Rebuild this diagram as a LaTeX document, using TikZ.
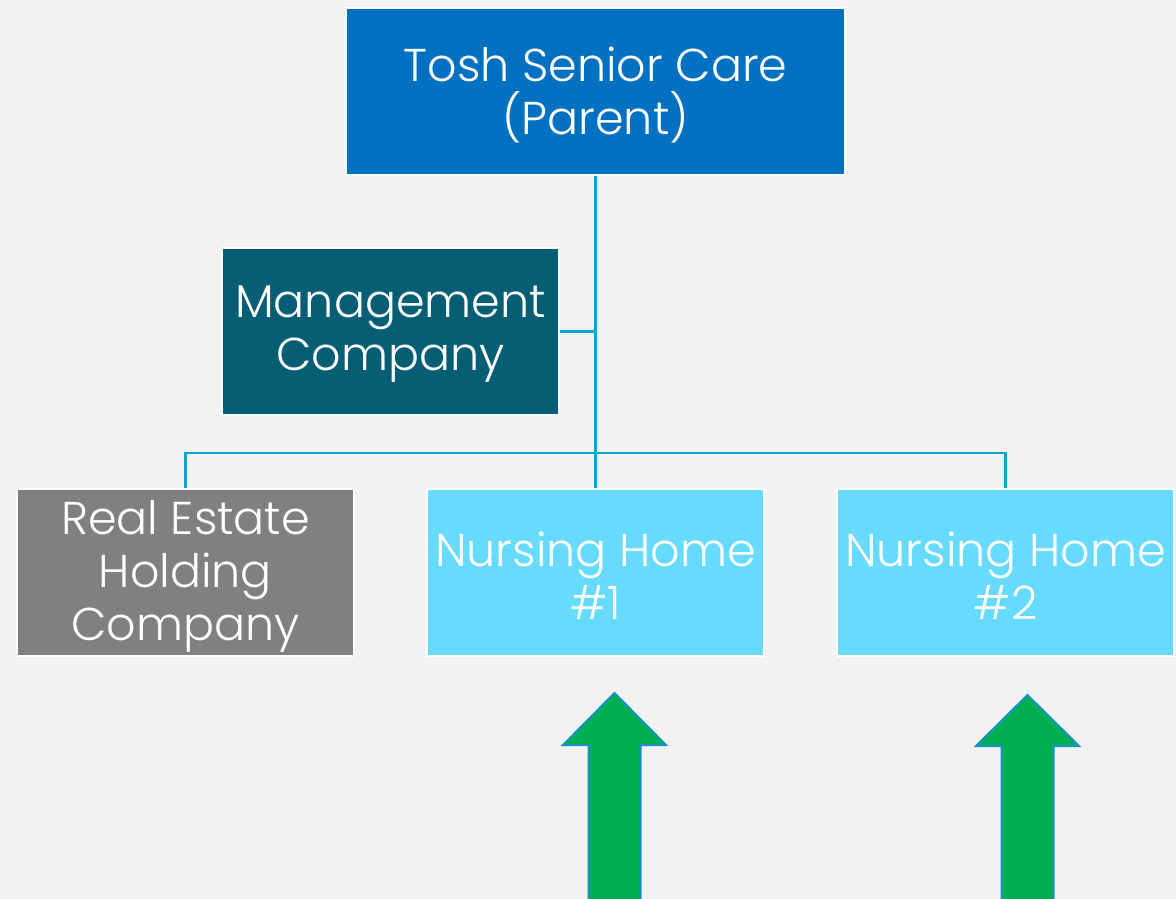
\documentclass[tikz,border=0pt]{standalone}
\usepackage{fontspec}
\setmainfont{Poppins Light}
\usepackage{xcolor}
\definecolor{bgGray}{HTML}{F2F2F2}
\definecolor{parentBlue}{HTML}{0070C0}
\definecolor{mgmtTeal}{HTML}{055E73}
\definecolor{estateGray}{HTML}{808080}
\definecolor{homeCyan}{HTML}{66DBFF}
\definecolor{lineBlue}{HTML}{0BA3D0}
\definecolor{arrowGreen}{HTML}{00B050}
\definecolor{arrowEdge}{HTML}{1591C8}

\tikzset{
  orgbox/.style={draw=white, line width=2pt, minimum height=167pt, inner sep=0pt},
  orgtext/.style={text=white, align=center, inner sep=0pt,
    font=\fontsize{46}{53}\selectfont},
  link/.style={draw=lineBlue, line width=2.5pt},
  uparrow/.style={fill=arrowGreen, draw=arrowEdge, line width=2pt, line join=miter}
}

\begin{document}
\begin{tikzpicture}[x=1pt, y=-1pt]
        \fill[bgGray] (0,0) rectangle (1176,899);
        \useasboundingbox (0,0) rectangle (1176,899);
        % boxes
        \node[orgbox, fill=parentBlue, minimum width=499pt] (parent) at (595.5,91.5) {};
        \node[orgbox, fill=mgmtTeal, minimum width=337pt] (mgmt) at (390.5,331.5) {};
        \node[orgbox, fill=estateGray, minimum width=337pt] (estate) at (185.5,572.5) {};
        \node[orgbox, fill=homeCyan, minimum width=337pt] (home1) at (595.5,572.5) {};
        \node[orgbox, fill=homeCyan, minimum width=337pt] (home2) at (1005.5,572.5) {};
        % labels
        \node[orgtext] (parenttext) at ([yshift=-3pt]parent.center) {Tosh Senior Care\\(Parent)};
        \node[orgtext] (mgmttext) at ([yshift=-3pt]mgmt.center) {Management\\Company};
        \node[orgtext] (estatetext) at ([yshift=-4pt]estate.center) {Real Estate\\Holding\\Company};
        \node[orgtext] (home1text) at ([yshift=-3pt]home1.center) {Nursing Home\\\#1};
        \node[orgtext] (home2text) at ([yshift=-3pt]home2.center) {Nursing Home\\\#2};
        % connectors
        \coordinate (bus) at (595.5,453);
        \draw[link] (parent.south) -- (home1.north);
        \draw[link] (mgmt.east) -- (mgmt.east -| parent.south);
        \draw[link] (estate.north) |- (bus) -| (home2.north);
        % arrows
        \draw[uparrow] (614.5,693) -- (666,745) -- (640.5,745) -- (640.5,905)
            -- (588.5,905) -- (588.5,745) -- (563,745) -- cycle;
        \draw[uparrow] (1027.5,695) -- (1079,746) -- (1053.5,746) -- (1053.5,905)
            -- (1001.5,905) -- (1001.5,746) -- (976,746) -- cycle;
    \end{tikzpicture}
\end{document}
